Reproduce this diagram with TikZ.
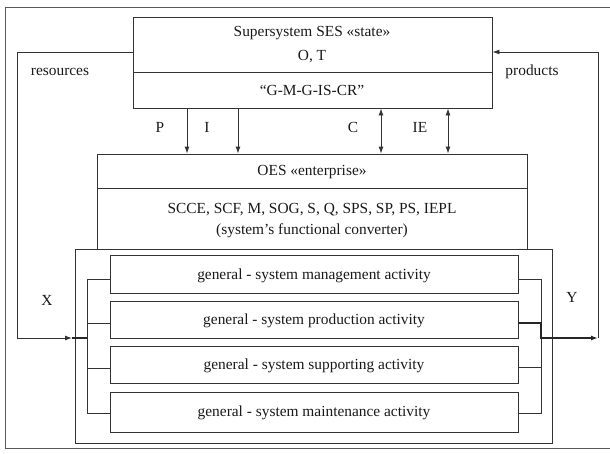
\documentclass[tikz,border=0pt]{standalone}
\usepackage{fontspec}
\setmainfont{Liberation Serif}
\usetikzlibrary{arrows.meta}
\begin{document}
\begin{tikzpicture}[x=1pt,y=-1pt,
  box/.style={draw=black!80, line width=0.9pt, inner sep=0pt},
  ln/.style={draw=black!80, line width=0.9pt},
  thk/.style={draw=black!85, line width=1.8pt},
  arr/.style={ln, -{Latex[length=7pt,width=5pt]}},
  darr/.style={ln, {Latex[length=7pt,width=5pt]}-{Latex[length=7pt,width=5pt]}},
  txt/.style={inner sep=0pt, font=\fontsize{15.4}{17}\selectfont, text=black!90},
]
\useasboundingbox (0,0) rectangle (610,453);
% outer frame
\node[box, draw=black!65, minimum width=608pt, minimum height=441pt] (frame) at (309,227.5) {};
% supersystem
\node[box, minimum width=359pt, minimum height=91pt] (ses) at (312.5,62.5) {};
\draw[ln] (133,72) coordinate (sesdl) -- (ses.east |- sesdl);
\node[txt] (sest) at (312,33) {Supersystem SES «state»};
\node[txt] (sesot) at (312,57) {O, T};
\node[txt] (sesg) at (312,90) {“G-M-G-IS-CR”};
% OES
\node[box, minimum width=430pt, minimum height=95pt] (oes) at (312,201.5) {};
\draw[ln] (97,188) coordinate (oesdl) -- (oes.east |- oesdl);
\node[txt] (oest) at (312,172) {OES «enterprise»};
\node[txt] (oesl) at (312,210) {SCCE, SCF, M, SOG, S, Q, SPS, SP, PS, IEPL};
\node[txt] (oesc) at (312,231) {(system’s functional converter)};
% container
\node[box, minimum width=477pt, minimum height=194pt] (cont) at (313.5,346) {};
% activities
\node[box, minimum width=408pt, minimum height=38pt] (a1) at (314,274) {};
\node[box, minimum width=408pt, minimum height=37pt] (a2) at (314,319.5) {};
\node[box, minimum width=408pt, minimum height=37pt] (a3) at (314,364.5) {};
\node[box, minimum width=408pt, minimum height=40pt] (a4) at (314,412) {};
\node[txt] (a1t) at (314,276) {general - system management activity};
\node[txt] (a2t) at (314,321) {general - system production activity};
\node[txt] (a3t) at (314,366) {general - system supporting activity};
\node[txt] (a4t) at (314,413) {general - system maintenance activity};
% brackets
\coordinate (lb) at (87,0);
\coordinate (rb) at (541,0);
\draw[ln] ([yshift=-5pt]a1.west) coordinate (l1) -- (l1 -| lb) -- ([yshift=-1pt]a4.west -| lb) -- ([yshift=-1pt]a4.west);
\draw[ln] ([yshift=-3.5pt]a2.west) coordinate (l2) -- (l2 -| lb);
\draw[ln] ([yshift=-3.5pt]a3.west) coordinate (l3) -- (l3 -| lb);
\draw[ln] ([yshift=-5pt]a1.east) coordinate (r1) -- (r1 -| rb) -- ([yshift=-1pt]a4.east -| rb) -- ([yshift=-1pt]a4.east);
\draw[ln] ([yshift=-3pt]a3.east) coordinate (r3) -- (r3 -| rb);
% X input
\coordinate (xin) at (72,338);
\coordinate (rl) at (17,0);
\draw[arr] (ses.west |- 0,52) coordinate (resout) -- (resout -| rl) -- (xin -| rl) -- (xin);
\draw[thk] (xin) -- (xin -| lb);
% Y output
\coordinate (yout) at (598,338);
\draw[thk, -{Latex[length=7pt,width=5pt]}] ([yshift=-3.5pt]a2.east) coordinate (r2) -- (r2 -| rb) -- (yout -| rb) -- (yout);
\draw[arr] (yout) -- (yout |- 0,52) -- (ses.east |- 0,52);
% P I C IE
\coordinate (xp) at (187,0);
\coordinate (xi) at (238,0);
\coordinate (xc) at (381,0);
\coordinate (xie) at (448,0);
\draw[arr] (ses.south -| xp) -- (oes.north -| xp);
\draw[arr] (ses.south -| xi) -- (oes.north -| xi);
\draw[darr] (ses.south -| xc) -- (oes.north -| xc);
\draw[darr] (ses.south -| xie) -- (oes.north -| xie);
% labels
\node[txt] (lp) at (160,127) {P};
\node[txt] (li) at (207,127) {I};
\node[txt] (lc) at (353,127) {C};
\node[txt] (lie) at (420,127) {IE};
\node[txt] (lres) at (60,72) {resources};
\node[txt] (lprod) at (532,72) {products};
\node[txt] (lx) at (47,300) {X};
\node[txt] (ly) at (572,297) {Y};
\end{tikzpicture}
\end{document}
